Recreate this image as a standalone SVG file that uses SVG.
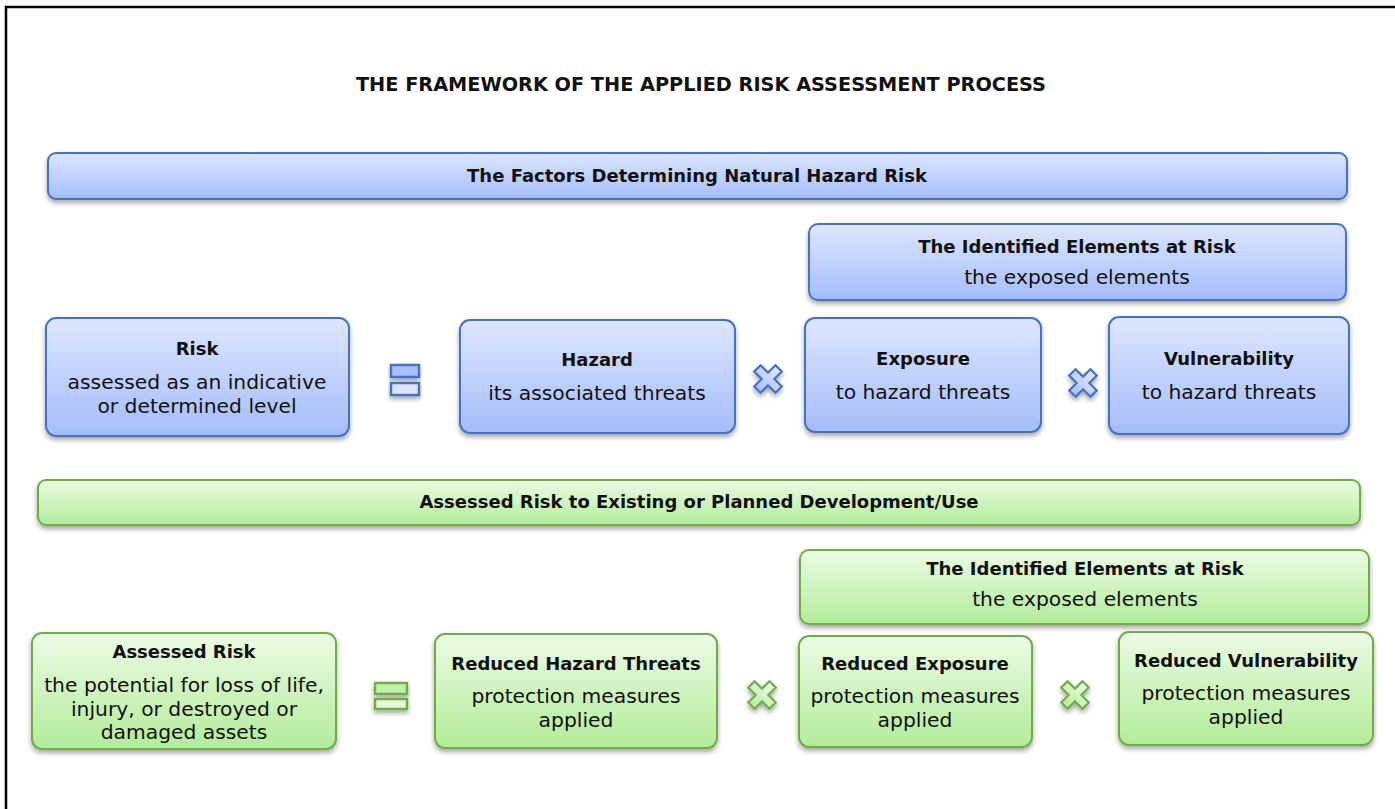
<svg xmlns="http://www.w3.org/2000/svg" xmlns:xlink="http://www.w3.org/1999/xlink" width="1395" height="809" viewBox="0 0 1395 809">
<defs>
<linearGradient id="gb" x1="0" y1="0" x2="0" y2="1"><stop offset="0" stop-color="#dde6fe"/><stop offset="1" stop-color="#a4bdf9"/></linearGradient>
<linearGradient id="gg" x1="0" y1="0" x2="0" y2="1"><stop offset="0" stop-color="#ecfbe5"/><stop offset="1" stop-color="#b2ec99"/></linearGradient>
<linearGradient id="gbx" x1="0" y1="0" x2="0" y2="1"><stop offset="0" stop-color="#e2e9fe"/><stop offset="1" stop-color="#aabff8"/></linearGradient>
<linearGradient id="ggx" x1="0" y1="0" x2="0" y2="1"><stop offset="0" stop-color="#eefbe7"/><stop offset="1" stop-color="#b6eb9e"/></linearGradient>
<filter id="sh" x="-10%" y="-20%" width="120%" height="150%"><feDropShadow dx="0" dy="3" stdDeviation="2.5" flood-color="#000" flood-opacity="0.35"/></filter>
<polygon id="xs" points="-4.5,-15 4.5,-15 4.5,-4.5 15,-4.5 15,4.5 4.5,4.5 4.5,15 -4.5,15 -4.5,4.5 -15,4.5 -15,-4.5 -4.5,-4.5" transform="rotate(45)"/>
</defs>
<style>
.b{fill:url(#gb);stroke:#4472c4;stroke-width:2;filter:url(#sh)}
.g{fill:url(#gg);stroke:#70ad47;stroke-width:2;filter:url(#sh)}
text{font-family:"DejaVu Sans","Liberation Sans",sans-serif;fill:#111;text-anchor:middle}
.h{font-weight:bold;font-size:18px}
.t{font-size:20.3px}
.ti{font-weight:bold;font-size:19.3px}
.xb{fill:url(#gbx);stroke:#4472c4;stroke-width:2.2;filter:url(#sh)}
.xg{fill:url(#ggx);stroke:#70ad47;stroke-width:2.2;filter:url(#sh)}
</style>
<rect width="1395" height="809" fill="#fff"/>
<path d="M6,810 V7 H1396" fill="none" stroke="#000" stroke-width="2.5"/>
<text class="ti" x="701" y="91">THE FRAMEWORK OF THE APPLIED RISK ASSESSMENT PROCESS</text>

<g id="banner-blue"><rect class="b" x="48" y="153" width="1299" height="46" rx="8"/><text class="h" x="697" y="182">The Factors Determining Natural Hazard Risk</text></g>
<g id="elements-blue"><rect class="b" x="809" y="224" width="537" height="76" rx="9"/><text class="h" x="1077" y="253">The Identified Elements at Risk</text><text class="t" x="1077" y="284">the exposed elements</text></g>
<g id="risk"><rect class="b" x="46" y="318" width="303" height="118" rx="10"/><text class="h" x="197" y="355">Risk</text><text class="t" x="197" y="389">assessed as an indicative</text><text class="t" x="197" y="413">or determined level</text></g>
<g id="hazard"><rect class="b" x="460" y="320" width="275" height="113" rx="10"/><text class="h" x="597" y="366">Hazard</text><text class="t" x="597" y="400">its associated threats</text></g>
<g id="exposure"><rect class="b" x="805" y="318" width="236" height="114" rx="10"/><text class="h" x="923" y="365">Exposure</text><text class="t" x="923" y="399">to hazard threats</text></g>
<g id="vulnerability"><rect class="b" x="1109" y="317" width="240" height="117" rx="10"/><text class="h" x="1229" y="365">Vulnerability</text><text class="t" x="1229" y="399">to hazard threats</text></g>

<g id="banner-green"><rect class="g" x="38" y="480" width="1322" height="45" rx="8"/><text class="h" x="699" y="508">Assessed Risk to Existing or Planned Development/Use</text></g>
<g id="elements-green"><rect class="g" x="800" y="550" width="569" height="74" rx="9"/><text class="h" x="1085" y="575">The Identified Elements at Risk</text><text class="t" x="1085" y="606">the exposed elements</text></g>
<g id="assessed-risk"><rect class="g" x="32" y="633" width="304" height="116" rx="10"/><text class="h" x="184" y="658">Assessed Risk</text><text class="t" x="184" y="692">the potential for loss of life,</text><text class="t" x="184" y="716">injury, or destroyed or</text><text class="t" x="184" y="739">damaged assets</text></g>
<g id="reduced-hazard"><rect class="g" x="435" y="634" width="282" height="114" rx="10"/><text class="h" x="576" y="670">Reduced Hazard Threats</text><text class="t" x="576" y="703">protection measures</text><text class="t" x="576" y="727">applied</text></g>
<g id="reduced-exposure"><rect class="g" x="799" y="636" width="233" height="111" rx="10"/><text class="h" x="915" y="670">Reduced Exposure</text><text class="t" x="915" y="703">protection measures</text><text class="t" x="915" y="727">applied</text></g>
<g id="reduced-vulnerability"><rect class="g" x="1119" y="632" width="254" height="113" rx="10"/><text class="h" x="1246" y="667">Reduced Vulnerability</text><text class="t" x="1246" y="700">protection measures</text><text class="t" x="1246" y="724">applied</text></g>

<g id="connectors">
<g id="eq-blue" filter="url(#sh)"><rect x="391" y="365" width="28" height="12" fill="#aac0fa" stroke="#4472c4" stroke-width="2.5"/><rect x="391" y="383" width="28" height="12" fill="#dce5fd" stroke="#4472c4" stroke-width="2.5"/></g>
<use xlink:href="#xs" class="xb" transform="translate(768,379)"/>
<use xlink:href="#xs" class="xb" transform="translate(1083,383)"/>
<g id="eq-green" filter="url(#sh)"><rect x="375" y="683" width="32" height="11" fill="#c3f0ad" stroke="#70ad47" stroke-width="2.5"/><rect x="375" y="699" width="32" height="10" fill="#e6fadb" stroke="#70ad47" stroke-width="2.5"/></g>
<use xlink:href="#xs" class="xg" transform="translate(762,695)"/>
<use xlink:href="#xs" class="xg" transform="translate(1075,695)"/>
</g>
</svg>
